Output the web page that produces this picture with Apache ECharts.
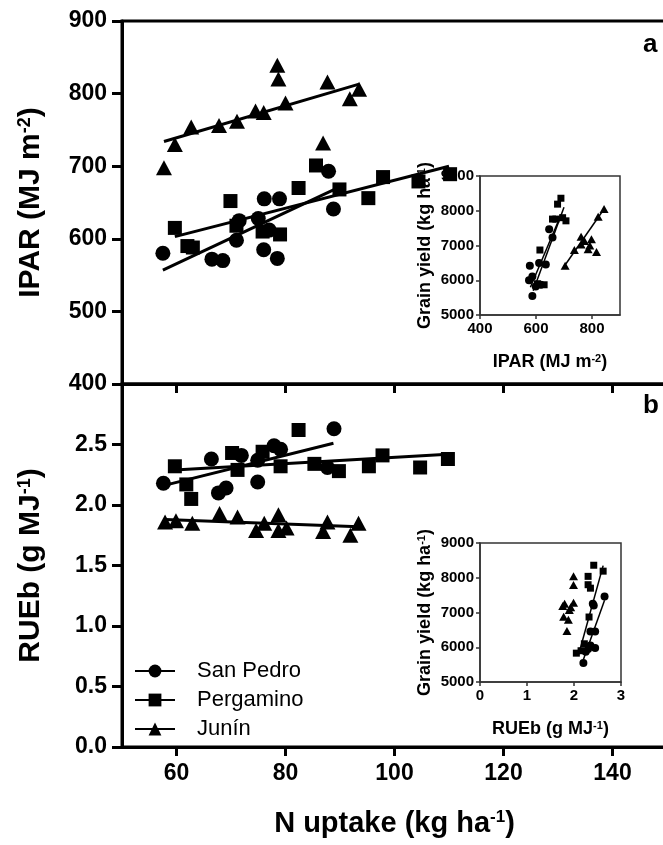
<!DOCTYPE html>
<html>
<head>
<meta charset="utf-8">
<script src="https://cdn.jsdelivr.net/npm/echarts@6/dist/echarts.min.js"></script>
<style>
html,body{margin:0;padding:0;background:#fff;}
#c{width:663px;height:845px;}
</style>
</head>
<body>
<div id="c"></div>
<script>
// ---------- data ----------
// Panel a: IPAR vs N uptake
var spN_a   = [57.5, 66.5, 68.5, 71.0, 71.5, 75.0, 76.0, 77.0, 78.5, 76.1, 78.9, 87.9, 88.8];
var spIPAR  = [580, 572, 570, 598, 625, 628, 585, 612, 573, 655, 655, 693, 641];
var pgN_a   = [59.7, 62.0, 63.0, 69.9, 71.0, 75.8, 79.0, 82.4, 85.6, 89.9, 95.2, 97.9, 104.4, 110.2];
var pgIPAR  = [615, 590, 588, 652, 618, 610, 606, 670, 701, 668, 656, 685, 679, 689];
var juN_a   = [57.7, 59.7, 62.7, 67.8, 71.1, 74.5, 76.0, 78.5, 78.7, 80.0, 87.7, 91.8, 93.5, 86.9];
var juIPAR  = [698, 730, 754, 756, 762, 776, 774, 839, 820, 787, 816, 793, 806, 732];
// fitted lines (end points)
var spFitA = [[57.5, 557], [89.0, 668]];
var pgFitA = [[59.7, 603], [110.0, 700]];
var juFitA = [[57.7, 734], [93.5, 813]];

// Panel b: RUEb vs N uptake
var spN_b   = [57.6, 66.4, 67.7, 69.1, 71.9, 74.9, 74.9, 77.9, 79.1, 88.9, 87.7];
var spRUE   = [2.18, 2.38, 2.10, 2.14, 2.41, 2.19, 2.37, 2.49, 2.46, 2.63, 2.31];
var pgN_b   = [59.7, 61.8, 62.7, 70.2, 71.2, 75.8, 79.1, 82.4, 85.3, 89.8, 95.3, 97.8, 104.7, 109.8];
var pgRUE   = [2.32, 2.17, 2.05, 2.43, 2.29, 2.44, 2.32, 2.62, 2.34, 2.28, 2.32, 2.41, 2.31, 2.38];
var juN_b   = [57.9, 59.9, 62.9, 67.9, 71.2, 74.6, 76.1, 78.7, 78.7, 80.2, 87.7, 86.9, 91.9, 93.4];
var juRUE   = [1.86, 1.87, 1.85, 1.93, 1.90, 1.79, 1.85, 1.92, 1.79, 1.81, 1.86, 1.78, 1.75, 1.85];
var spFitB = [[57.6, 2.16], [88.8, 2.51]];
var pgFitB = [[59.7, 2.29], [109.8, 2.42]];
var juFitB = [[57.9, 1.88], [93.4, 1.82]];

// Inset a: grain yield vs IPAR
var spIPAR_i = [587, 578, 575, 587, 611, 635, 647, 659, 599, 617];
var spGY_i   = [5550, 6420, 6000, 6110, 6500, 6450, 7470, 7230, 5820, 5870];
var pgIPAR_i = [614, 689, 677, 671, 707, 695, 659, 605, 629];
var pgGY_i   = [6870, 8360, 8190, 7760, 7710, 7800, 7760, 5900, 5870];
var juIPAR_i = [704, 737, 761, 773, 798, 786, 792, 816, 843, 822, 761];
var juGY_i   = [6420, 6870, 7250, 7130, 7180, 6890, 7000, 6810, 8050, 7830, 7030];
var spFitIa = [[580, 5800], [690, 7900]];
var pgFitIa = [[590, 5700], [700, 8100]];
var juFitIa = [[699, 6380], [843, 8050]];

// Inset b: grain yield vs RUEb
var spRUE_i = [2.20, 2.30, 2.35, 2.45, 2.40, 2.42, 2.65, 2.45, 2.35, 2.25];
var spGY_i2 = [5550, 5950, 6450, 6450, 7250, 7200, 7460, 5980, 6050, 5870];
var pgRUE_i = [2.05, 2.42, 2.30, 2.62, 2.30, 2.35, 2.32, 2.15, 2.22];
var pgGY_i2 = [5830, 8360, 8040, 8190, 7800, 7700, 6870, 5900, 6100];
var juRUE_i = [1.99, 1.99, 1.76, 1.99, 1.90, 1.78, 1.88, 1.85, 1.80, 1.93];
var juGY_i2 = [8045, 7790, 7190, 7280, 7070, 6880, 6790, 6470, 7250, 7150];
var spFitIb = [[2.20, 5650], [2.65, 7350]];
var pgFitIb = [[2.10, 5800], [2.62, 8350]];

// ticks
var xTicks = [60, 80, 100, 120, 140];
var ipTicksInset = [400, 600, 800];
var rueTicksInset = [0, 1, 2, 3];

// ---------- chart ----------
var FONT = 'Liberation Sans, Arial, sans-serif';
function zip(a, b) { return a.map(function (v, i) { return [v, b[i]]; }); }
function plain(v) { return String(v); }

var supBig = { sup: { fontSize: 18, fontWeight: 'bold', fontFamily: FONT, verticalAlign: 'top', lineHeight: 24 } };
var supSmall = { sup: { fontSize: 11, fontWeight: 'bold', fontFamily: FONT, verticalAlign: 'top', lineHeight: 14 } };

function mainX(grid, showLabel) {
  return {
    type: 'value', gridIndex: grid, min: 50, max: 150,
    axisLine: { show: true, onZero: false, lineStyle: { color: '#000', width: 3 } },
    axisTick: { show: true, customValues: xTicks, length: 9, lineStyle: { color: '#000', width: 3 } },
    axisLabel: { show: showLabel, customValues: xTicks, margin: 15, color: '#000', fontSize: 23, fontWeight: 'bold', fontFamily: FONT },
    splitLine: { show: false },
    name: showLabel ? 'N uptake (kg ha{sup|-1})' : '', nameLocation: 'middle', nameGap: 62,
    nameTextStyle: { color: '#000', fontSize: 29, fontWeight: 'bold', fontFamily: FONT, rich: { sup: { fontSize: 17, fontWeight: 'bold', fontFamily: FONT, verticalAlign: 'top', lineHeight: 22 } } }
  };
}
function mainY(grid, min, max, interval, name, fmt) {
  return {
    type: 'value', gridIndex: grid, min: min, max: max, interval: interval,
    axisLine: { show: true, onZero: false, lineStyle: { color: '#000', width: 3 } },
    axisTick: { show: true, length: 10, lineStyle: { color: '#000', width: 3 } },
    axisLabel: { margin: 15, color: '#000', fontSize: 23, fontWeight: 'bold', fontFamily: FONT, formatter: fmt, showMaxLabel: grid === 0 },
    splitLine: { show: false },
    name: name, nameLocation: 'middle', nameGap: 76,
    nameTextStyle: { color: '#000', fontSize: 30, fontWeight: 'bold', fontFamily: FONT, rich: supBig }
  };
}
function insetX(grid, min, max, ticks, name) {
  return {
    type: 'value', gridIndex: grid, min: min, max: max,
    axisLine: { show: true, onZero: false, lineStyle: { color: '#333', width: 1.5 } },
    axisTick: { show: true, customValues: ticks, length: 4, lineStyle: { color: '#333', width: 1.5 } },
    axisLabel: { customValues: ticks, margin: 6, color: '#000', fontSize: 15, fontWeight: 'bold', fontFamily: FONT, formatter: plain },
    splitLine: { show: false },
    name: name, nameLocation: 'middle', nameGap: 38,
    nameTextStyle: { color: '#000', fontSize: 18, fontWeight: 'bold', fontFamily: FONT, rich: supSmall }
  };
}
function insetY(grid) {
  return {
    type: 'value', gridIndex: grid, min: 5000, max: 9000, interval: 1000,
    axisLine: { show: true, onZero: false, lineStyle: { color: '#333', width: 1.5 } },
    axisTick: { show: true, length: 4, lineStyle: { color: '#333', width: 1.5 } },
    axisLabel: { margin: 6, color: '#000', fontSize: 15, fontWeight: 'bold', fontFamily: FONT, formatter: plain },
    splitLine: { show: false },
    name: 'Grain yield (kg ha{sup|-1})', nameLocation: 'middle', nameGap: 46,
    nameTextStyle: { color: '#000', fontSize: 18, fontWeight: 'bold', fontFamily: FONT, rich: supSmall }
  };
}

var SYM = { 'San Pedro': 'circle', 'Pergamino': 'rect', 'Junín': 'triangle' };
function fitLine(name, xi, yi, data, width) {
  return {
    type: 'line', name: name, xAxisIndex: xi, yAxisIndex: yi, data: data,
    symbol: SYM[name], showSymbol: false, symbolSize: 12,
    lineStyle: { color: '#000', width: width }, itemStyle: { color: '#000' },
    silent: true, z: 3
  };
}
function pts(name, xi, yi, xs, ys, size) {
  var s = size;
  if (SYM[name] === 'triangle') s = [size + 1, size];
  if (SYM[name] === 'rect') s = size - 1;
  return {
    type: 'scatter', name: name, xAxisIndex: xi, yAxisIndex: yi, data: zip(xs, ys),
    symbol: SYM[name], symbolSize: s, itemStyle: { color: '#000', opacity: 1 }, silent: true, z: 4
  };
}

var option = {
  animation: false,
  backgroundColor: '#fff',
  grid: [
    { left: 122, top: 21, width: 545, height: 363, outerBoundsMode: 'none', containLabel: false, show: true, borderColor: '#000', borderWidth: 3, backgroundColor: 'transparent' },
    { left: 122, top: 384, width: 545, height: 363, outerBoundsMode: 'none', containLabel: false, show: true, borderColor: '#000', borderWidth: 3, backgroundColor: 'transparent' },
    { left: 480, top: 176, width: 140, height: 139, outerBoundsMode: 'none', containLabel: false, show: true, borderColor: '#333', borderWidth: 1.5, backgroundColor: 'transparent' },
    { left: 480, top: 543, width: 141, height: 139, outerBoundsMode: 'none', containLabel: false, show: true, borderColor: '#333', borderWidth: 1.5, backgroundColor: 'transparent' }
  ],
  xAxis: [
    mainX(0, false),
    mainX(1, true),
    insetX(2, 400, 900, ipTicksInset, 'IPAR (MJ m{sup|-2})'),
    insetX(3, 0, 3, rueTicksInset, 'RUEb (g MJ{sup|-1})')
  ],
  yAxis: [
    mainY(0, 400, 900, 100, 'IPAR (MJ m{sup|-2})', null),
    mainY(1, 0, 3, 0.5, 'RUEb (g MJ{sup|-1})', function (v) { return v.toFixed(1); }),
    insetY(2),
    insetY(3)
  ],
  legend: {
    orient: 'vertical', left: 129, top: 655,
    itemWidth: 40, itemHeight: 16, itemGap: 7,
    data: ['San Pedro', 'Pergamino', 'Junín'],
    textStyle: { color: '#000', fontSize: 22, fontFamily: FONT, padding: [0, 0, 0, 17] },
    selectedMode: false
  },
  graphic: [
    { type: 'text', left: 643, top: 32, style: { text: 'a', fontSize: 26, fontWeight: 'bold', fontFamily: FONT, fill: '#000' } },
    { type: 'text', left: 643, top: 393, style: { text: 'b', fontSize: 26, fontWeight: 'bold', fontFamily: FONT, fill: '#000' } }
  ],
  series: [
    fitLine('San Pedro', 0, 0, spFitA, 3),
    fitLine('Pergamino', 0, 0, pgFitA, 3),
    fitLine('Junín', 0, 0, juFitA, 3),
    pts('San Pedro', 0, 0, spN_a, spIPAR, 15),
    pts('Pergamino', 0, 0, pgN_a, pgIPAR, 15),
    pts('Junín', 0, 0, juN_a, juIPAR, 15),

    fitLine('San Pedro', 1, 1, spFitB, 3),
    fitLine('Pergamino', 1, 1, pgFitB, 3),
    fitLine('Junín', 1, 1, juFitB, 3),
    pts('San Pedro', 1, 1, spN_b, spRUE, 15),
    pts('Pergamino', 1, 1, pgN_b, pgRUE, 15),
    pts('Junín', 1, 1, juN_b, juRUE, 15),

    fitLine('San Pedro', 2, 2, spFitIa, 1.5),
    fitLine('Pergamino', 2, 2, pgFitIa, 1.5),
    fitLine('Junín', 2, 2, juFitIa, 1.5),
    pts('San Pedro', 2, 2, spIPAR_i, spGY_i, 8),
    pts('Pergamino', 2, 2, pgIPAR_i, pgGY_i, 8),
    pts('Junín', 2, 2, juIPAR_i, juGY_i, 8),

    fitLine('San Pedro', 3, 3, spFitIb, 1.5),
    fitLine('Pergamino', 3, 3, pgFitIb, 1.5),
    pts('San Pedro', 3, 3, spRUE_i, spGY_i2, 8),
    pts('Pergamino', 3, 3, pgRUE_i, pgGY_i2, 8),
    pts('Junín', 3, 3, juRUE_i, juGY_i2, 8)
  ]
};
var chart = echarts.init(document.getElementById('c'), null, { renderer: 'canvas' });
chart.setOption(option);
</script>
</body>
</html>
